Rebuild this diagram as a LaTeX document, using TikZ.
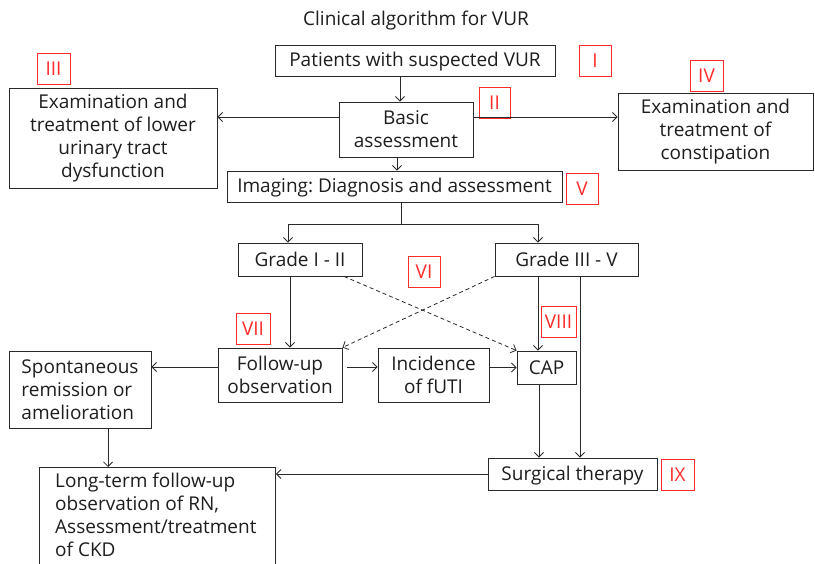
\documentclass[tikz,border=0pt]{standalone}
\usepackage{fontspec}
\setmainfont{Open Sans}
\usetikzlibrary{arrows.meta}
\definecolor{ln}{HTML}{2A2A2A}
\definecolor{txt}{HTML}{1E1E1E}
\definecolor{rd}{HTML}{FF2A2A}
\frenchspacing
\begin{document}
\begin{tikzpicture}[x=1pt,y=-1pt,
  box/.style={draw=ln, line width=0.9pt, inner sep=0pt, align=center, text=txt,
    font=\fontsize{19}{23}\selectfont},
  oneline/.style={text height=13pt, text depth=0pt},
  tag/.style={draw=rd, line width=0.8pt, text=rd, inner sep=0pt,
    minimum width=32pt, minimum height=31pt, font=\fontsize{19}{20}\selectfont},
  arr/.style={draw=ln, line width=0.8pt, -{Straight Barb[length=4.5pt,width=9pt]}},
  dsh/.style={arr, dashed, dash pattern=on 4pt off 3pt},
  ln/.style={draw=ln, line width=0.8pt}
]
\clip (0,0) rectangle (815,564);
\fill[white] (0,0) rectangle (815,564);

\node[text=txt, font=\fontsize{19}{20}\selectfont] (title) at (416,21) {Clinical algorithm for VUR};

\node[box, oneline, minimum width=280, minimum height=31] (pat) at (415,60.5) {Patients with suspected VUR};
\node[tag] (tI) at (595,60.5) {I};
\node[tag, minimum width=33] (tIII) at (53.5,68.5) {III};
\node[box, minimum width=208, minimum height=100] (lut) at (113,138) {Examination and\\treatment of lower\\urinary tract\\dysfunction};
\node[box, minimum width=134, minimum height=55] (basic) at (406,129.5) {Basic\\assessment};
\node[tag, minimum width=31] (tII) at (494.5,102.5) {II};
\node[box, minimum width=195, minimum height=77] (const) at (715.5,131.5) {Examination and\\treatment of\\constipation};
\node[tag, minimum width=33] (tIV) at (706.5,75.5) {IV};
\node[box, oneline, minimum width=335, minimum height=31] (img) at (394.5,186.5) {Imaging: Diagnosis and assessment};
\node[tag] (tV) at (582,188.5) {V};
\node[box, minimum width=124, minimum height=33] (g12) at (300,259.5) {Grade I - II};
\node[box, minimum width=143, minimum height=33] (g35) at (566.5,259.5) {Grade III - V};
\node[tag] (tVI) at (424,271.5) {VI};
\node[tag, minimum width=34] (tVII) at (253,328.5) {VII};
\node[tag, minimum width=35] (tVIII) at (558.5,321.5) {VIII};
\node[box, minimum width=124, minimum height=54] (fol) at (280,375) {Follow-up\\observation};
\node[box, minimum width=142, minimum height=77, align=left] (spont) at (80,389.5) {Spontaneous\\remission or\\amelioration};
\node[box, minimum width=111, minimum height=54] (inc) at (433.5,375) {Incidence\\of fUTI};
\node[box, minimum width=59, minimum height=33] (cap) at (546.5,367.5) {CAP};
\node[box, oneline, minimum width=169, minimum height=32] (surg) at (572.5,474) {Surgical therapy};
\node[tag, minimum width=33] (tIX) at (677.5,474.5) {IX};
\node[box, minimum width=236, minimum height=130, anchor=north west] (long) at (39,467) {};
\node[text=txt, align=left, anchor=north west, inner sep=0pt,
  font=\fontsize{19}{23}\selectfont] (longtxt) at (55,473) {Long-term follow-up\\observation of RN,\\Assessment/treatment\\of CKD};

% connectors
\draw[arr] ([xshift=-15pt]pat.south) -- ([xshift=-15pt]pat.south |- basic.north);
\draw[arr] ([yshift=12.5pt]basic.west) -- ([yshift=12.5pt]basic.west -| lut.east);
\draw[arr] ([yshift=12.5pt]basic.east) -- ([yshift=12.5pt]basic.east -| const.west);
\draw[arr] ([xshift=-9pt]basic.south) -- ([xshift=-9pt]basic.south |- img.north);
\coordinate (split) at (401,224);
\draw[ln] (img.south -| split) -- (split);
\draw[arr] (split) -| ([xshift=-12pt]g12.north);
\draw[arr] (split) -| ([xshift=-28.5pt]g35.north);
\draw[arr] ([xshift=-10pt]g12.south) -- ([xshift=-10pt]g12.south |- fol.north);
\draw[dsh] ([xshift=44pt]g12.south) -- (cap.north west);
\draw[dsh] (g35.south west) -- (fol.north east);
\draw[arr] ([xshift=-28.5pt]g35.south) -- ([xshift=-28.5pt]g35.south |- cap.north);
\draw[arr] ([xshift=13.5pt]g35.south) -- ([xshift=13.5pt]g35.south |- surg.north);
\draw[arr] ([xshift=-7.5pt]cap.south) -- ([xshift=-7.5pt]cap.south |- surg.north);
\draw[arr] ([yshift=8pt]fol.west) -- ([yshift=8pt]fol.west -| spont.east);
\draw[arr] ([xshift=5pt,yshift=8pt]fol.east) -- ([yshift=8pt]fol.east -| inc.west);
\draw[arr] (inc.east |- cap.west) -- (cap.west);
\draw[arr] (surg.west) -- (surg.west -| long.east);
\draw[arr] ([xshift=28pt]spont.south) -- ([xshift=28pt]spont.south |- long.north);
\end{tikzpicture}
\end{document}
